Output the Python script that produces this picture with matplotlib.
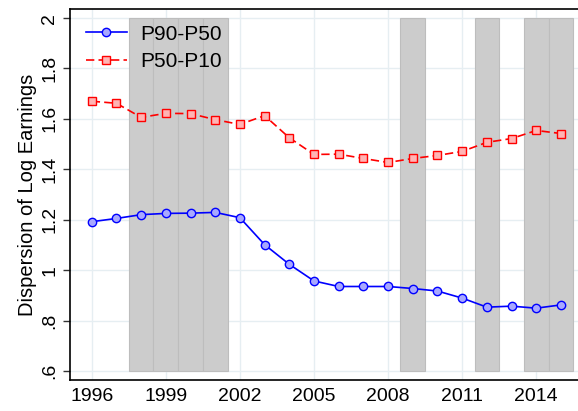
import matplotlib.pyplot as plt

years = [1996, 1997, 1998, 1999, 2000, 2001, 2002, 2003, 2004, 2005,
         2006, 2007, 2008, 2009, 2010, 2011, 2012, 2013, 2014, 2015]
p90_p50 = [1.192, 1.205, 1.220, 1.225, 1.226, 1.229, 1.208, 1.101, 1.023, 0.957,
           0.935, 0.935, 0.935, 0.927, 0.917, 0.889, 0.853, 0.857, 0.849, 0.862]
p50_p10 = [1.670, 1.662, 1.606, 1.622, 1.621, 1.597, 1.578, 1.613, 1.525, 1.459,
           1.460, 1.443, 1.427, 1.443, 1.455, 1.471, 1.507, 1.522, 1.554, 1.542]
recession_years = [1998, 1999, 2000, 2001, 2009, 2012, 2014, 2015]
xticks = [1996, 1999, 2002, 2005, 2008, 2011, 2014]
yticks = [0.6, 0.8, 1.0, 1.2, 1.4, 1.6, 1.8, 2.0]
ylabels = ['.6', '.8', '1', '1.2', '1.4', '1.6', '1.8', '2']

plt.rcParams['font.family'] = ['Liberation Sans', 'DejaVu Sans']

fig = plt.figure(figsize=(5.78, 4.11), dpi=100)
ax = fig.add_axes([70 / 578, 31 / 411, 508 / 578, 371 / 411])

# shaded bars from .6 to 2
ax.bar(recession_years, [1.4] * len(recession_years), bottom=0.6, width=1.0,
       color='#cccccc', edgecolor='#bdbdbd', linewidth=0.8, zorder=1)

ax.plot(years, p90_p50, color='#0000ff', linewidth=1.2, marker='o',
        markersize=6, markerfacecolor='#a8a8ff', markeredgecolor='#0000ff',
        markeredgewidth=1.0, label='P90-P50', zorder=3)
ax.plot(years, p50_p10, color='#ff0000', linewidth=1.2, linestyle=(0, (5, 2.5)),
        marker='s', markersize=6, markerfacecolor='#ffb4b4',
        markeredgecolor='#ff0000', markeredgewidth=1.0, label='P50-P10', zorder=3)

ax.set_xlim(1995.12, 2015.69)
ax.set_ylim(0.564, 2.036)
ax.set_xticks(xticks)
ax.set_yticks(yticks)
ax.set_yticklabels(ylabels, rotation=90, va='center')
ax.tick_params(axis='both', labelsize=14, width=1, color='#333333')
ax.tick_params(axis='y', length=5)
ax.tick_params(axis='x', length=0, pad=6)
ax.grid(True, color='#e6eef2', linewidth=1.0, zorder=0)
ax.set_axisbelow(True)

for s in ['left', 'bottom', 'top']:
    ax.spines[s].set_linewidth(1.2)
ax.spines['right'].set_visible(False)

ax.set_ylabel('Dispersion of Log Earnings', fontsize=14.5, labelpad=3)

ax.legend(loc='upper left', frameon=False, fontsize=15, handlelength=2.0,
          handletextpad=0.6, borderaxespad=0.4, labelspacing=0.4,
          borderpad=0.35)

fig.savefig('out.png', dpi=100)
